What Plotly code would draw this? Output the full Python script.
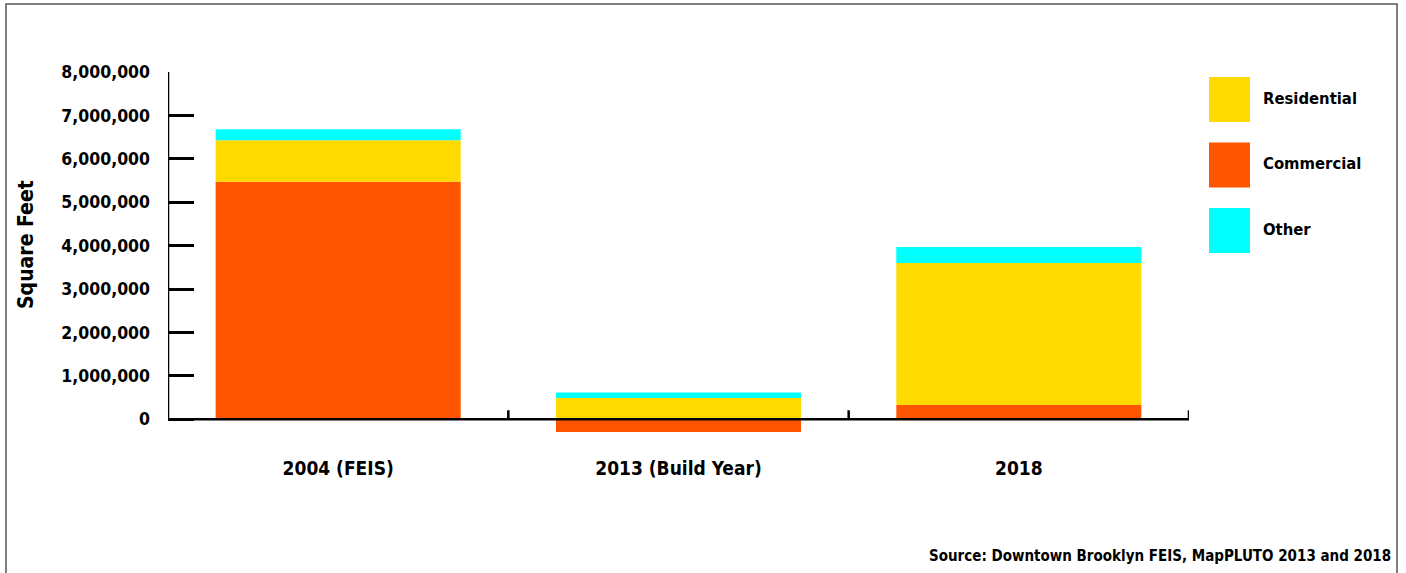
import plotly.graph_objects as go

# Floor area by land use, in square feet
categories = ["2004 (FEIS)", "2013 (Build Year)", "2018"]
commercial = [5470000, -290000, 330000]
residential = [960000, 490000, 3270000]
other = [250000, 130000, 370000]

y_ticks = [0, 1000000, 2000000, 3000000, 4000000, 5000000, 6000000, 7000000, 8000000]
y_tick_text = [f"{v:,}" for v in y_ticks]

COLORS = {"Commercial": "#FF5500", "Residential": "#FFDA00", "Other": "#00FFFF"}
FONT = "DejaVu Sans Condensed, Liberation Sans Narrow, Arial Narrow, sans-serif"

# plot area in pixels (used to place paper-referenced items)
L, R, T, B = 168, 1189, 72, 441
PW, PH = R - L, B - T


def px(x):
    return (x - L) / PW


def py(y):
    return (B - y) / PH


fig = go.Figure()
for name, vals in [("Commercial", commercial), ("Residential", residential), ("Other", other)]:
    fig.add_trace(go.Bar(
        x=categories, y=vals, name=name, width=0.72,
        marker=dict(color=COLORS[name], line=dict(width=0)),
        showlegend=False,
    ))

n = len(categories)
shapes = []
# y axis line from 0 up to the top tick
shapes.append(dict(type="line", xref="x", yref="y", x0=-0.5, x1=-0.5, y0=0, y1=y_ticks[-1],
                   line=dict(color="black", width=2.5)))
# baseline at zero
shapes.append(dict(type="line", xref="x", yref="y", x0=-0.5, x1=n - 0.5, y0=0, y1=0,
                   line=dict(color="black", width=2.5), layer="above"))
# small upward ticks at category boundaries
for i in range(1, n + 1):
    shapes.append(dict(type="line", xref="x", yref="y", ysizemode="pixel", yanchor=0,
                       x0=i - 0.5, x1=i - 0.5, y0=0, y1=9,
                       line=dict(color="black", width=2.5)))
# outer frame
shapes.append(dict(type="path", xref="paper", yref="paper",
                   path=f"M {px(6)},{py(600)} L {px(6)},{py(4)} L {px(1397)},{py(4)} L {px(1397)},{py(600)}",
                   line=dict(color="#555555", width=1.5)))

# legend swatches with labels
legend_items = ["Residential", "Commercial", "Other"]
annotations = []
for k, name in enumerate(legend_items):
    y_top = 77 + k * 65.5
    shapes.append(dict(type="rect", xref="paper", yref="paper",
                       x0=px(1209), x1=px(1250), y0=py(y_top), y1=py(y_top + 45),
                       fillcolor=COLORS[name], line=dict(width=0)))
    annotations.append(dict(xref="paper", yref="paper", x=px(1261), y=py(y_top + 21),
                            text=name, showarrow=False, xanchor="left", yanchor="middle",
                            font=dict(family=FONT, size=16.5, color="black", weight="bold")))

annotations.append(dict(xref="paper", yref="paper", x=px(1393), y=py(556),
                        text="Source: Downtown Brooklyn FEIS, MapPLUTO 2013 and 2018",
                        showarrow=False, xanchor="right", yanchor="middle",
                        font=dict(family=FONT, size=15, color="black", weight="bold")))
annotations.append(dict(xref="paper", yref="paper", x=px(26), y=py(245),
                        text="Square Feet", textangle=-90, showarrow=False,
                        xanchor="center", yanchor="middle",
                        font=dict(family=FONT, size=21, color="black", weight="bold")))

fig.update_layout(
    width=1406, height=573,
    margin=dict(l=L, r=1406 - R, t=T, b=573 - B, pad=0),
    barmode="relative",
    plot_bgcolor="white", paper_bgcolor="white",
    font=dict(family=FONT, color="black"),
    shapes=shapes, annotations=annotations,
    xaxis=dict(range=[-0.5, n - 0.5], showline=False, showgrid=False, zeroline=False,
               ticks="", tickfont=dict(family=FONT, size=19, color="black", weight="bold"),
               ticklabelstandoff=14),
    yaxis=dict(range=[-500000, 8000000], showline=False, showgrid=False, zeroline=False,
               tickvals=y_ticks, ticktext=y_tick_text, ticks="inside", ticklen=26,
               tickwidth=2.5, tickcolor="black",
               tickfont=dict(family=FONT, size=17.5, color="black", weight="bold"),
               ticklabelstandoff=17),
)

fig.write_html("out.html")
